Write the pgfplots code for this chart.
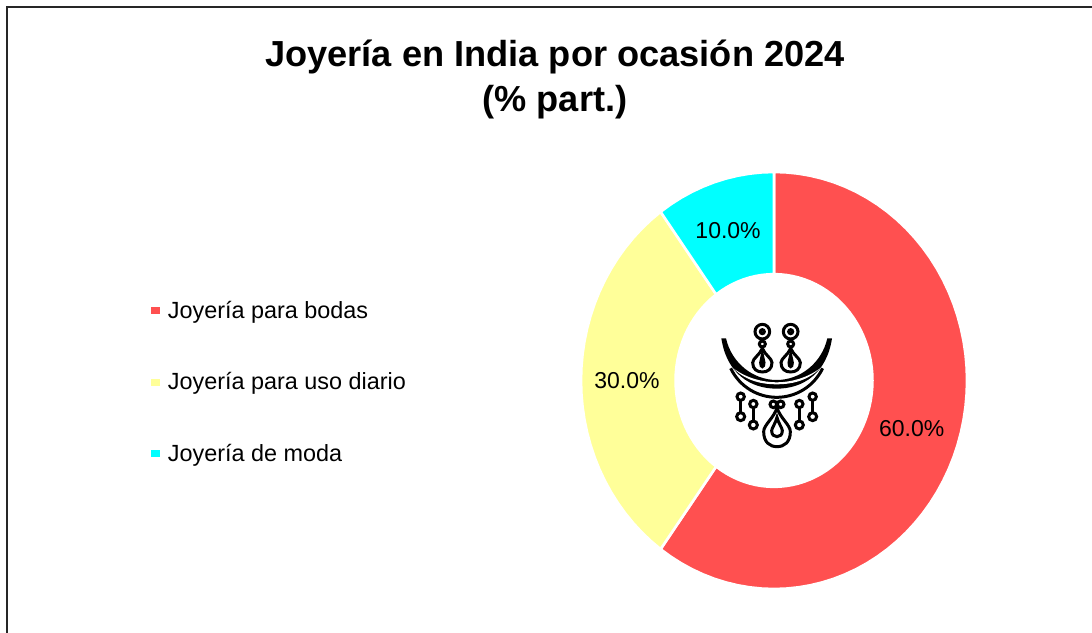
\documentclass[border=0pt]{standalone}
\usepackage{pgfplots}
\pgfplotsset{compat=1.18}
\usepackage{fontspec}
\setmainfont{Liberation Sans}
\definecolor{sred}{HTML}{FF5050}
\definecolor{syel}{HTML}{FFFF99}
\definecolor{scya}{HTML}{00FFFF}
\newcommand{\tdrop}[5]{% cx, top, half width, widest y, bottom
  \draw (#1,#2) .. controls (#1-0.25*#3,#2+0.45*#4-0.45*#2) and (#1-#3,#4-0.45*#5+0.45*#4) .. (#1-#3,#4)
   .. controls (#1-#3,#4+0.7*#5-0.7*#4) and (#1-0.55*#3,#5) .. (#1,#5)
   .. controls (#1+0.55*#3,#5) and (#1+#3,#4+0.7*#5-0.7*#4) .. (#1+#3,#4)
   .. controls (#1+#3,#4-0.45*#5+0.45*#4) and (#1+0.25*#3,#2+0.45*#4-0.45*#2) .. cycle;}
\begin{document}
\begin{tikzpicture}
\path[use as bounding box] (0,0) rectangle (1092bp,633bp);
\begin{axis}[
  at={(0,0)},anchor=south west,
  scale only axis,width=1092bp,height=633bp,
  xmin=-4.0104,xmax=1.6477,ymin=-1.2110,ymax=1.8249,
  axis lines=none,clip=false,
  legend style={draw=none,fill=none,at={(0.1382,0.3965)},anchor=west,
    font=\fontsize{23.4bp}{26bp}\selectfont,row sep=49bp,
    cells={anchor=west},inner sep=0pt},
  legend image code/.code={\path[#1,draw=none] (0bp,-3.5bp) rectangle (9bp,3.5bp);\path (13.5bp,0);},
  every axis plot/.append style={draw=white,line width=2.6bp,line join=miter},
]
\addplot[fill=sred] table[x expr={\thisrow{r}*sin(3.6*\thisrow{p})},y expr={\thisrow{r}*cos(3.6*\thisrow{p})},row sep=\\] {
p r\\
0 1\\1 1\\2 1\\3 1\\4 1\\5 1\\6 1\\7 1\\8 1\\9 1\\10 1\\11 1\\12 1\\13 1\\14 1\\15 1\\16 1\\17 1\\18 1\\19 1\\20 1\\
21 1\\22 1\\23 1\\24 1\\25 1\\26 1\\27 1\\28 1\\29 1\\30 1\\31 1\\32 1\\33 1\\34 1\\35 1\\36 1\\37 1\\38 1\\39 1\\40 1\\
41 1\\42 1\\43 1\\44 1\\45 1\\46 1\\47 1\\48 1\\49 1\\50 1\\51 1\\52 1\\53 1\\54 1\\55 1\\56 1\\57 1\\58 1\\59 1\\60 1\\
60 0.51\\59 0.51\\58 0.51\\57 0.51\\56 0.51\\55 0.51\\54 0.51\\53 0.51\\52 0.51\\51 0.51\\50 0.51\\49 0.51\\48 0.51\\47 0.51\\46 0.51\\45 0.51\\44 0.51\\43 0.51\\42 0.51\\41 0.51\\
40 0.51\\39 0.51\\38 0.51\\37 0.51\\36 0.51\\35 0.51\\34 0.51\\33 0.51\\32 0.51\\31 0.51\\30 0.51\\29 0.51\\28 0.51\\27 0.51\\26 0.51\\25 0.51\\24 0.51\\23 0.51\\22 0.51\\21 0.51\\
20 0.51\\19 0.51\\18 0.51\\17 0.51\\16 0.51\\15 0.51\\14 0.51\\13 0.51\\12 0.51\\11 0.51\\10 0.51\\9 0.51\\8 0.51\\7 0.51\\6 0.51\\5 0.51\\4 0.51\\3 0.51\\2 0.51\\1 0.51\\0 0.51\\0 1\\
} -- cycle;
\addlegendentry{Joyería para bodas}
\addplot[fill=syel] table[x expr={\thisrow{r}*sin(3.6*\thisrow{p})},y expr={\thisrow{r}*cos(3.6*\thisrow{p})},row sep=\\] {
p r\\
60 1\\61 1\\62 1\\63 1\\64 1\\65 1\\66 1\\67 1\\68 1\\69 1\\70 1\\71 1\\72 1\\73 1\\74 1\\75 1\\76 1\\77 1\\78 1\\79 1\\80 1\\81 1\\82 1\\83 1\\84 1\\85 1\\86 1\\87 1\\88 1\\89 1\\90 1\\
90 0.51\\89 0.51\\88 0.51\\87 0.51\\86 0.51\\85 0.51\\84 0.51\\83 0.51\\82 0.51\\81 0.51\\80 0.51\\79 0.51\\78 0.51\\77 0.51\\76 0.51\\75 0.51\\74 0.51\\73 0.51\\72 0.51\\71 0.51\\70 0.51\\69 0.51\\68 0.51\\67 0.51\\66 0.51\\65 0.51\\64 0.51\\63 0.51\\62 0.51\\61 0.51\\60 0.51\\60 1\\
} -- cycle;
\addlegendentry{Joyería para uso diario}
\addplot[fill=scya] table[x expr={\thisrow{r}*sin(3.6*\thisrow{p})},y expr={\thisrow{r}*cos(3.6*\thisrow{p})},row sep=\\] {
p r\\
90 1\\91 1\\92 1\\93 1\\94 1\\95 1\\96 1\\97 1\\98 1\\99 1\\100 1\\
100 0.51\\99 0.51\\98 0.51\\97 0.51\\96 0.51\\95 0.51\\94 0.51\\93 0.51\\92 0.51\\91 0.51\\90 0.51\\90 1\\
} -- cycle;
\addlegendentry{Joyería de moda}
\node[font=\fontsize{23bp}{26bp}\selectfont] at (axis cs:0.713,-0.233) {60.0\%};
\node[font=\fontsize{23bp}{26bp}\selectfont] at (axis cs:-0.762,0) {30.0\%};
\node[font=\fontsize{23bp}{26bp}\selectfont] at (axis cs:-0.238,0.717) {10.0\%};
\end{axis}
% frame
\draw[line width=2bp,color=black!85] (7.2bp,0) -- (7.2bp,625.5bp) -- (1092bp,625.5bp);
% title
\node[font=\bfseries\fontsize{36.2bp}{45bp}\selectfont,align=center] at (555bp,554bp) {Joyería en India por ocasión 2024\\(\% part.)};
% icon
\begin{scope}[shift={(700bp,333bp)},x=0.33333bp,y=-0.33333bp,line width=3bp,black]
 \foreach \c in {187,272}{
  \draw (\c,95) circle[radius=22];
  \draw (\c,95) circle[radius=6];
  \draw (\c,132) circle[radius=9];
  \tdrop{\c}{145}{29}{188}{216}
  \tdrop{\c}{165}{5}{188}{200}
 }
 % crescent
 \fill (64,115) .. controls (80,220) and (150,266) .. (230,266)
   .. controls (310,266) and (380,220) .. (396,115) -- (382,115)
   .. controls (365,190) and (300,240) .. (230,240)
   .. controls (160,240) and (95,190) .. (78,115) -- cycle;
 \draw (92,205) .. controls (120,262) and (175,292) .. (230,292) .. controls (285,292) and (340,262) .. (368,205);
 \fill[white] (100,205) .. controls (140,245) and (190,253) .. (230,253) .. controls (270,253) and (320,245) .. (360,205) .. controls (320,235) and (270,247) .. (230,247) .. controls (190,247) and (140,235) .. (100,205) -- cycle;
 \foreach \a/\b/\d in {122/290/350,160/312/375,298/312/375,338/290/350}{
  \draw[fill=white] (\a,\b) circle[radius=11];
  \draw (\a,\b+11) -- (\a,\d-12);
  \draw[fill=white] (\a,\d) circle[radius=12];
 }
 \draw (220,313) circle[radius=10];
 \draw (242,313) circle[radius=10];
 \tdrop{231}{323}{40}{395}{440}
 \tdrop{231}{352}{16}{392}{410}
\end{scope}
\end{tikzpicture}
\end{document}
